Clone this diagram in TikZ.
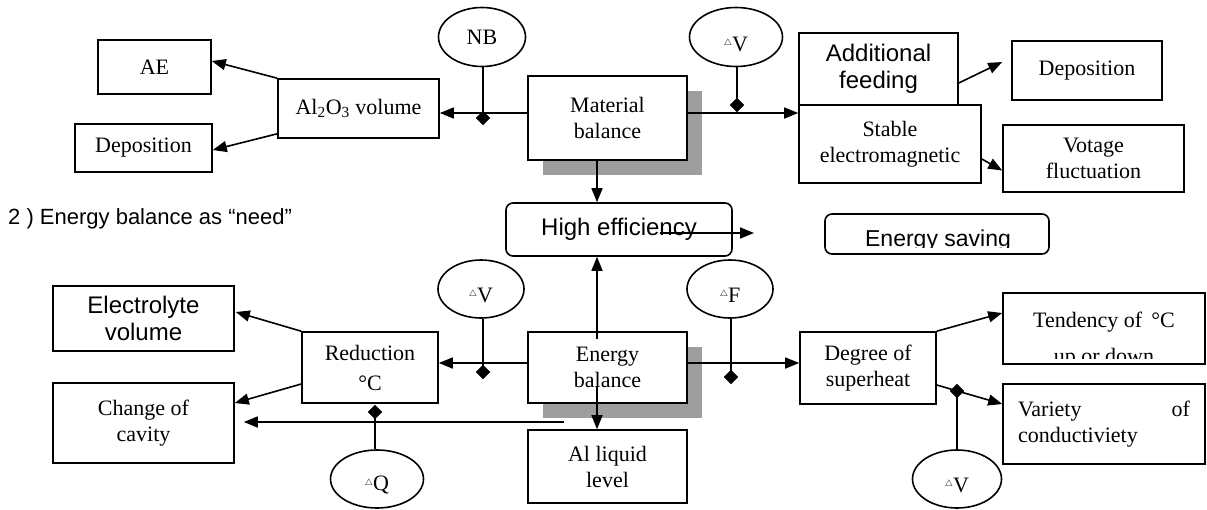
\documentclass[tikz,border=0pt]{standalone}
\usepackage{fontspec}
\setmainfont{Liberation Serif}
\setsansfont{Liberation Sans}
\usetikzlibrary{arrows.meta,shapes.geometric,calc,shadows}
\begin{document}
\begin{tikzpicture}[x=1pt,y=-1pt,
  base/.style={draw, line width=1.6pt, fill=white, inner sep=2pt, align=center},
  sbox/.style={base, font=\fontsize{22}{26}\selectfont},
  abox/.style={base, font=\sffamily\fontsize{24}{27}\selectfont},
  rbox/.style={abox, rounded corners=7pt},
  shad/.style={drop shadow={shadow xshift=15pt, shadow yshift=-15pt, fill=black!38, opacity=1}},
  ell/.style={draw, ellipse, line width=1.6pt, inner sep=0pt, font=\fontsize{22}{26}\selectfont},
  dia/.style={diamond, fill=black, draw=black, line width=0.4pt, minimum width=14pt, minimum height=14pt, inner sep=0pt},
  arr/.style={line width=1.6pt, -{Triangle[length=14pt,width=11pt]}},
  ln/.style={line width=1.6pt},
  stext/.style={font=\fontsize{22}{26}\selectfont, inner sep=0pt},
  atext/.style={font=\sffamily\fontsize{23}{27}\selectfont, inner sep=0pt},
]
\useasboundingbox (0,0) rectangle (1207,509);
\newcommand{\dlt}{\raisebox{0.25em}{\fontsize{9}{9}\selectfont$\triangle$}}

% helper coordinates
\coordinate (cx) at (597,0);
\coordinate (ytop) at (0,113);
\coordinate (ybot) at (0,363);

% ---------- top part ----------
\node[sbox, minimum width=113pt, minimum height=54pt] (ae) at (154.5,67) {AE};
\node[sbox, minimum width=137pt, minimum height=48pt] (depL) at (143.5,148) {Deposition};
\node[sbox, minimum width=161pt, minimum height=59pt] (al2o3) at (358.5,108.5) {Al\textsubscript{2}O\textsubscript{3} volume};
\node[sbox, shad, minimum width=159pt, minimum height=84pt] (mat) at (607.5,118) {Material\\balance};
\node[abox, minimum width=159pt, minimum height=72pt] (add) at (878.5,69) {Additional\\feeding};
\node[sbox, minimum width=182pt, minimum height=78pt] (stab) at (890,144) {Stable\\electromagnetic};
\node[sbox, minimum width=150pt, minimum height=59pt] (depR) at (1087,70.5) {Deposition};
\node[sbox, minimum width=181pt, minimum height=67pt] (volt) at (1093.5,158.5) {Votage\\fluctuation};

\node[ell, minimum width=87pt, minimum height=59pt] (nb) at (482,37) {NB};
\node[ell, minimum width=93pt, minimum height=59pt, label={[stext, yshift=-7pt]center:{\dlt V}}] (dvT) at (736,37) {};

\node[dia] (d1) at (483,118) {};
\node[dia] (d2) at (737,105) {};

\draw[arr] (mat.west |- ytop) -- (al2o3.east |- ytop);
\draw[ln] (d1 |- nb.south) -- (d1.center);
\draw[arr] (mat.east |- ytop) -- (stab.west |- ytop);
\draw[ln] (d2 |- dvT.south) -- (d2.center);
\draw[arr] (al2o3.north west) -- ($(ae.east)+(0,-6)$);
\draw[arr] ($(al2o3.south west)+(0,-5)$) -- ($(depL.east)+(0,2)$);
\draw[arr] ($(add.east)+(0,14)$) -- ($(depR.west)+(-9,-8.5)$);
\draw[arr] ($(stab.east)+(0,15)$) -- ($(volt.west)+(0,12)$);

% ---------- middle ----------
\node[atext, font=\sffamily\fontsize{22}{26}\selectfont, anchor=base west] (head) at (8,224) {2 ) Energy balance as “need”};
\node[rbox, minimum width=226pt, minimum height=53pt] (high) at (619,229.5) {High efficiency};
\node[rbox, minimum width=224pt, minimum height=40pt] (sav) at (937,234) {};
\begin{scope}
  \clip (sav.north west) rectangle ($(sav.south east)+(0,-7)$);
  \node[atext, anchor=base] (savt) at ($(sav.south)+(1,-8)$) {Energy saving};
\end{scope}
\coordinate (hs) at (660,233);
\coordinate (he) at (754,233);
\draw[arr] (hs) -- (he);
\draw[arr] (mat.south -| cx) -- (high.north -| cx);

% ---------- bottom part ----------
\node[sbox, shad, minimum width=159pt, minimum height=71pt] (energy) at (607.5,367.5) {Energy\\balance};
\node[sbox, minimum width=136pt, minimum height=71pt] (red) at (370,367.5) {Reduction\\[4pt]°C};
\node[sbox, minimum width=136pt, minimum height=72pt] (deg) at (868,368) {Degree of\\superheat};
\node[sbox, minimum width=202pt, minimum height=71pt] (tend) at (1104,328.5) {};
\begin{scope}
  \clip (tend.north west) rectangle ($(tend.south east)+(0,-6)$);
  \node[stext, anchor=base] (tend1) at (1104,327) {Tendency of \,°C};
  \node[stext, anchor=base] (tend2) at (1104,363) {up or down};
\end{scope}
\node[sbox, minimum width=202pt, minimum height=80pt, text width=172pt, align=left] (var) at (1104,424) {Variety\hfill of\\conductiviety};
\node[sbox, minimum width=159pt, minimum height=73pt] (all) at (607.5,466.5) {Al liquid\\level};
\node[sbox, minimum width=181pt, minimum height=80pt] (cav) at (143.5,423) {Change of\\cavity};
\node[abox, minimum width=181pt, minimum height=65pt] (elec) at (143.5,318.5) {Electrolyte\\volume};

\node[ell, minimum width=86pt, minimum height=58pt, label={[stext, yshift=-6pt]center:{\dlt V}}] (dvM) at (481,289) {};
\node[ell, minimum width=86pt, minimum height=58pt, label={[stext, yshift=-6pt]center:{\dlt F}}] (dF) at (730,289) {};
\node[ell, minimum width=93pt, minimum height=58pt, label={[stext, yshift=-6pt]center:{\dlt Q}}] (dQ) at (377,479) {};
\node[ell, minimum width=89pt, minimum height=58pt, label={[stext, yshift=-6pt]center:{\dlt V}}] (dvB) at (957,479) {};

\node[dia] (d3) at (483,372) {};
\node[dia] (d4) at (731,377) {};
\node[dia] (d5) at (375,412) {};
\node[dia] (d6) at (957,391) {};

\draw[arr] ($(energy.north -| cx)+(0,8)$) -- (high.south -| cx);
\draw[arr] ($(energy.south -| cx)+(0,-18)$) -- (all.north -| cx);
\draw[arr] (energy.west |- ybot) -- (red.east |- ybot);
\draw[ln] (d3 |- dvM.south) -- (d3.center);
\draw[arr] (energy.east |- ybot) -- (deg.west |- ybot);
\draw[ln] (d4 |- dF.south) -- (d4.center);
\coordinate (cs) at (564,422);
\draw[arr] (cs) -- ($(cav.east)+(9,-1)$);
\draw[ln] (d5 |- dQ.north) -- (d5.center);
\draw[arr] (red.north west) -- ($(elec.east)+(1,-6.5)$);
\draw[arr] ($(red.west)+(0,16.5)$) -- ($(cav.east)+(0,-20)$);
\draw[arr] (deg.north east) -- ($(tend.west)+(0,-15.5)$);
\draw[arr] ($(deg.east)+(0,17)$) -- ($(var.west)+(0,-20)$);
\draw[ln] (dvB.north) -- (d6.center);
\end{tikzpicture}
\end{document}
